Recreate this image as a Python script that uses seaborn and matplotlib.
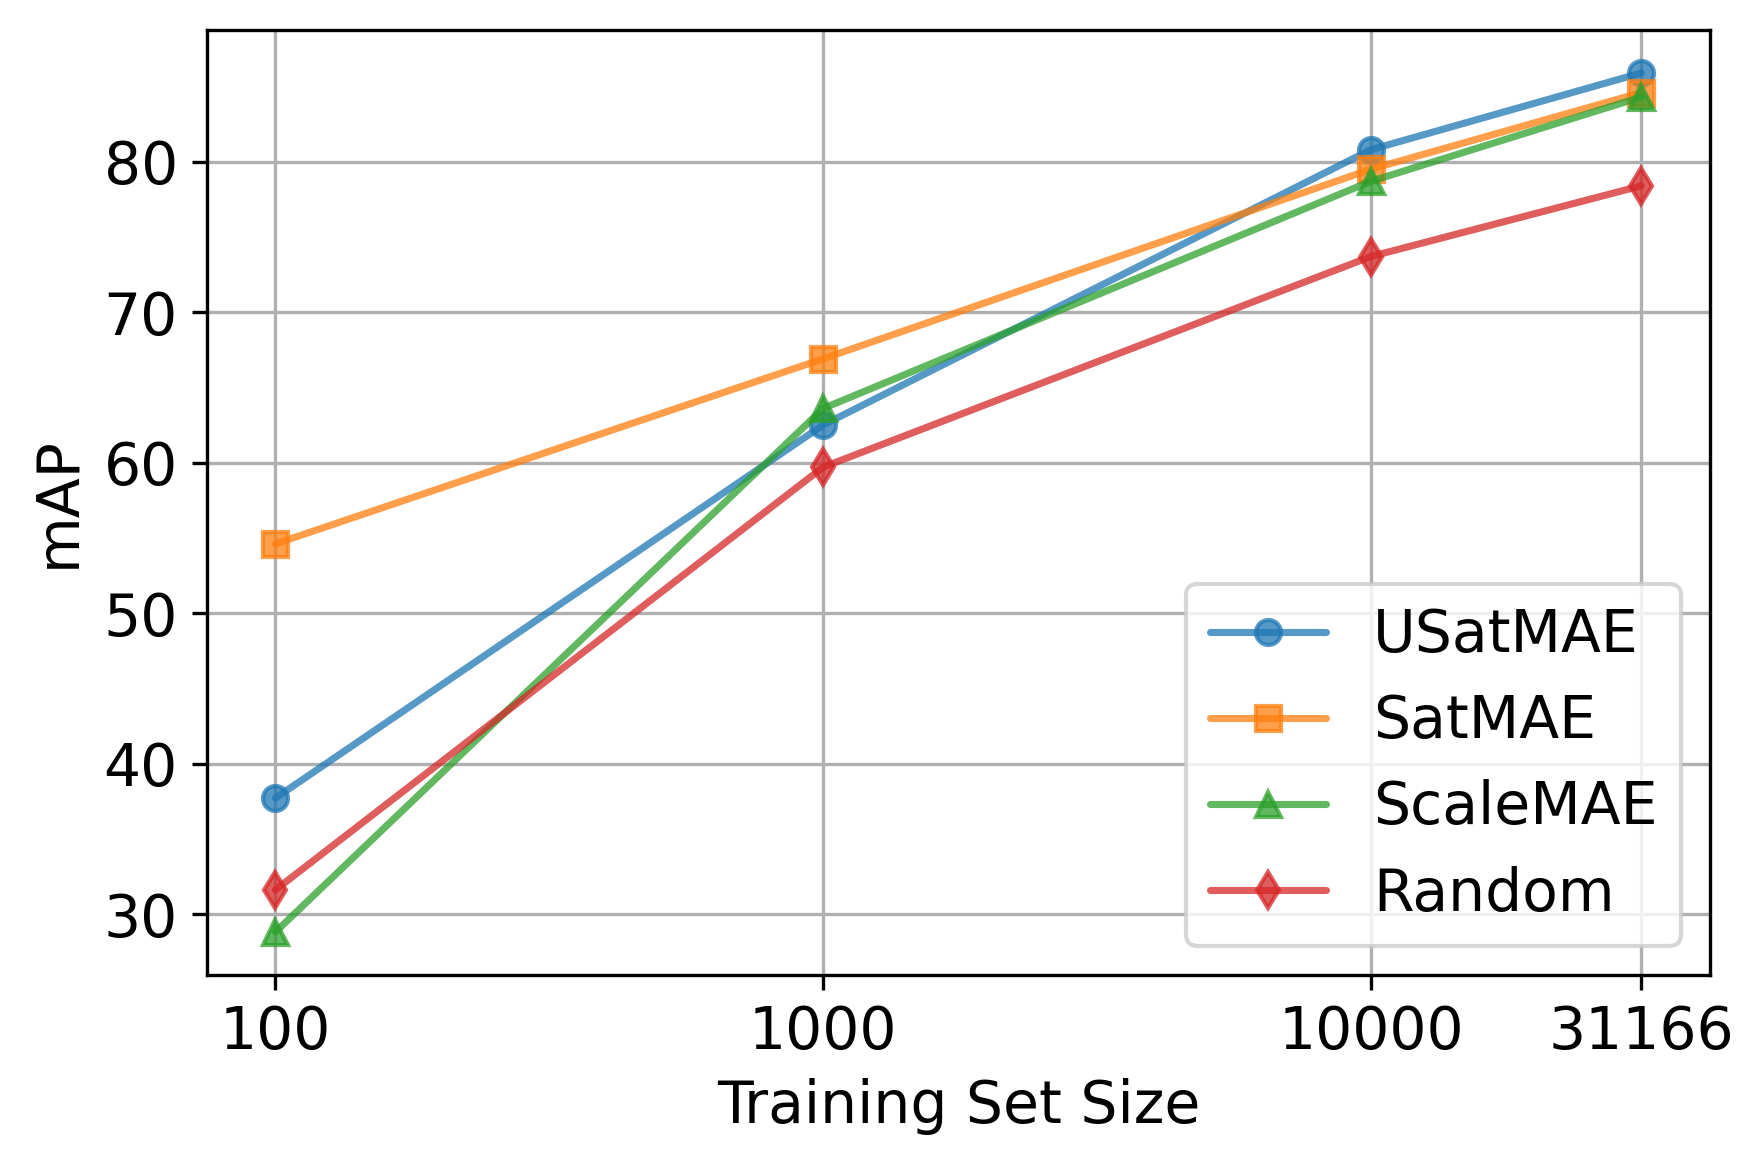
import pandas as pd
import matplotlib.pyplot as plt
import seaborn as sns

# training set sizes (log x axis)
sizes = [100, 1000, 10000, 31166]
size_labels = ['100', '1000', '10000', '31166']

# mAP per model
usatmae = [37.7, 62.5, 80.8, 85.9]
satmae = [54.6, 66.9, 79.5, 84.6]
scalemae = [28.8, 63.6, 78.7, 84.3]
random_init = [31.6, 59.7, 73.7, 78.4]

models = ['USatMAE', 'SatMAE', 'ScaleMAE', 'Random']
series = [usatmae, satmae, scalemae, random_init]
markers = ['o', 's', '^', 'd']
colors = sns.color_palette('tab10', 4)

rows = []
for name, vals in zip(models, series):
    for s, v in zip(sizes, vals):
        rows.append({'Model': name, 'Size': s, 'mAP': v})
df = pd.DataFrame(rows)

sns.set_style('ticks')
plt.rcParams['font.family'] = ['DejaVu Sans']
plt.rcParams['text.color'] = 'black'
plt.rcParams['axes.labelcolor'] = 'black'
plt.rcParams['xtick.color'] = 'black'
plt.rcParams['ytick.color'] = 'black'

fig, ax = plt.subplots(figsize=(5.88, 3.89), dpi=300)
fig.subplots_adjust(left=0.1173, right=0.9694, top=0.9743, bottom=0.1645)

for name, m, c in zip(models, markers, colors):
    sns.lineplot(data=df[df['Model'] == name], x='Size', y='mAP', ax=ax,
                 color=c, marker=m, markersize=6, markeredgecolor=c,
                 markeredgewidth=1, linewidth=1.7, alpha=0.75, label=name)

ax.set_xscale('log')
ax.set_xlim(75, 41600)
ax.set_xticks(sizes)
ax.set_xticklabels(size_labels)
ax.minorticks_off()
ax.grid(True, color='#b0b0b0', linewidth=0.8)
ax.set_axisbelow(True)
for sp in ax.spines.values():
    sp.set_visible(True)
    sp.set_color('black')
    sp.set_linewidth(0.8)
ax.tick_params(axis='both', labelsize=14, length=3.5, width=0.8,
               color='black', labelcolor='black')

ax.set_xlabel('Training Set Size', fontsize=14, color='black')
ax.set_ylabel('mAP', fontsize=14, color='black')
leg = ax.legend(loc='lower right', fontsize=14)
for t in leg.get_texts():
    t.set_color('black')

plt.savefig('out.png', dpi=300)
plt.close()
